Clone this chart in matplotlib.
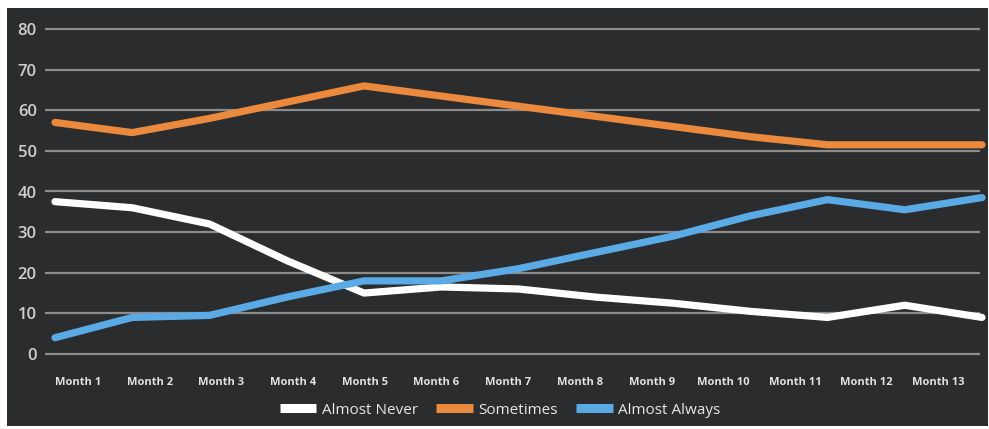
import matplotlib
matplotlib.use('Agg')

from matplotlib import pyplot as plt
from matplotlib.lines import Line2D
from matplotlib.patches import Rectangle
import numpy as np

months = [f"Month {i}" for i in range(1, 14)]
almost_never = [37.5, 36, 32, 23, 15, 16.5, 16, 14, 12.5, 10.5, 9, 12, 9]
sometimes = [57, 54.5, 58, 62, 66, 63.5, 61, 58.5, 56, 53.5, 51.5, 51.5, 51.5]
almost_always = [4, 9, 9.5, 14, 18, 18, 21, 25, 29, 34, 38, 35.5, 38.5]
y_ticks = [0, 10, 20, 30, 40, 50, 60, 70, 80]

bg = '#2b2c2e'
c_white = '#ffffff'
c_orange = '#eb8a3c'
c_blue = '#5aaae6'

plt.rcParams['font.family'] = ['Open Sans', 'DejaVu Sans']

W, H = 989, 429
fig = plt.figure(figsize=(W/100, H/100), dpi=100, facecolor='white')
# dark panel with thin white border
fig.patches.append(Rectangle((7/W, 3/H), 981/W, 418/H, transform=fig.transFigure,
                             facecolor=bg, edgecolor='none', zorder=-10))

ax = fig.add_axes([45/W, (H-362.1)/H, 935/W, (362.1-20.9)/H])
ax.set_facecolor('none')

x = np.arange(len(months))
for vals, col in [(almost_never, c_white), (sometimes, c_orange), (almost_always, c_blue)]:
    ax.plot(x, vals, color=col, lw=5.2, solid_capstyle='round', solid_joinstyle='round',
            clip_on=False, zorder=3)

ax.set_xlim(-10/77.25, 12 - 2/77.25)
ax.set_ylim(-2, 82)
ax.set_yticks(y_ticks)
ax.yaxis.grid(True, color='#8c8c8c', lw=1.6)
ax.set_axisbelow(True)
for s in ax.spines.values():
    s.set_visible(False)

# category labels sit slightly off the data points in the original
ax.set_xticks(np.linspace(23/77.25, 23/77.25 + 12*71.7/77.25, 13))
ax.set_xticklabels(months, fontsize=8, fontweight='bold', color='#e2e2e2')
ax.tick_params(axis='x', length=0, pad=11)
ax.tick_params(axis='y', length=0, pad=6, labelsize=12, labelcolor='#cfcfcf')
for t in ax.get_yticklabels():
    t.set_fontweight('semibold')

handles = [Line2D([], [], color=c, lw=6.5, solid_capstyle='butt') for c in (c_white, c_orange, c_blue)]
leg = fig.legend(handles, ['Almost Never', 'Sometimes', 'Almost Always'], loc='center',
                 bbox_to_anchor=(500/W, (H-410)/H), ncol=3, frameon=False, fontsize=11,
                 handlelength=2.4, handletextpad=0.35, columnspacing=1.2)
for t in leg.get_texts():
    t.set_color('#e6e6e6')

fig.savefig('out.png', dpi=100, facecolor='white')
